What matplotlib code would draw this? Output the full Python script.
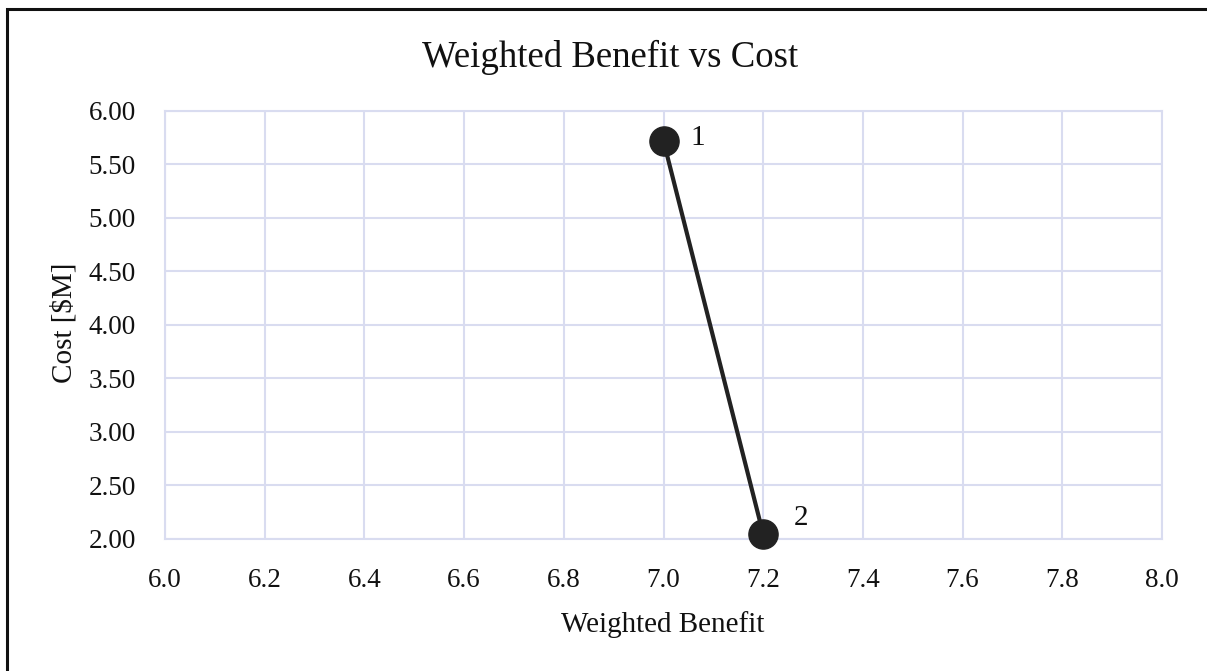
import matplotlib
matplotlib.use("Agg")
import matplotlib.pyplot as plt
from matplotlib.patches import Rectangle

benefit = [7.0, 7.2]
cost = [5.715, 2.045]
point_labels = ["1", "2"]
x_ticks = [6.0, 6.2, 6.4, 6.6, 6.8, 7.0, 7.2, 7.4, 7.6, 7.8, 8.0]
y_ticks = [2.0, 2.5, 3.0, 3.5, 4.0, 4.5, 5.0, 5.5, 6.0]

plt.rcParams['font.family'] = ['Liberation Serif', 'DejaVu Serif']

W, H = 1207, 671
fig = plt.figure(figsize=(W / 100, H / 100), dpi=100)
ax_l, ax_r, ax_t, ax_b = 165, 1162, 110.5, 539
ax = fig.add_axes([ax_l / W, 1 - ax_b / H, (ax_r - ax_l) / W, (ax_b - ax_t) / H])

grid_c = '#d9dcf0'
txt_c = '#111111'
ax.plot(benefit, cost, color='#222222', lw=3, marker='o', markersize=21,
        markerfacecolor='#222222', markeredgecolor='#222222', zorder=3, clip_on=False)
offsets = [(24.5, 2), (27, 12)]
for x, y, t, off in zip(benefit, cost, point_labels, offsets):
    ax.annotate(t, (x, y), xytext=off, textcoords='offset points',
                fontsize=21, va='center', ha='center', color=txt_c)

ax.set_xlim(6.0, 8.0)
ax.set_ylim(2.0, 6.0)
ax.set_xticks(x_ticks)
ax.set_xticklabels([f"{v:.1f}" for v in x_ticks])
ax.set_yticks(y_ticks)
ax.set_yticklabels([f"{v:.2f}" for v in y_ticks])
ax.grid(True, color=grid_c, lw=1.5)
ax.set_axisbelow(True)
for s in ax.spines.values():
    s.set_color(grid_c)
    s.set_linewidth(1.5)
ax.tick_params(length=0, labelsize=19.5, colors=txt_c)
ax.tick_params(axis='x', pad=21)
ax.tick_params(axis='y', pad=21)

fig.text(662.5 / W, 1 - 632 / H, 'Weighted Benefit', ha='center', va='baseline',
         fontsize=21, color=txt_c)
fig.text(64 / W, 1 - 323 / H, 'Cost [$M]', ha='center', va='center',
         rotation=90, fontsize=21, color=txt_c)
fig.text(610.5 / W, 1 - 67 / H, 'Weighted Benefit vs Cost', ha='center', va='baseline',
         fontsize=26.5, color=txt_c)

fig.patches.append(Rectangle((7 / W, -0.05), 1.2, 1 - 9 / H + 0.05,
                             transform=fig.transFigure, fill=False,
                             edgecolor='#111111', lw=2.2))
fig.savefig('out.png', dpi=100)
